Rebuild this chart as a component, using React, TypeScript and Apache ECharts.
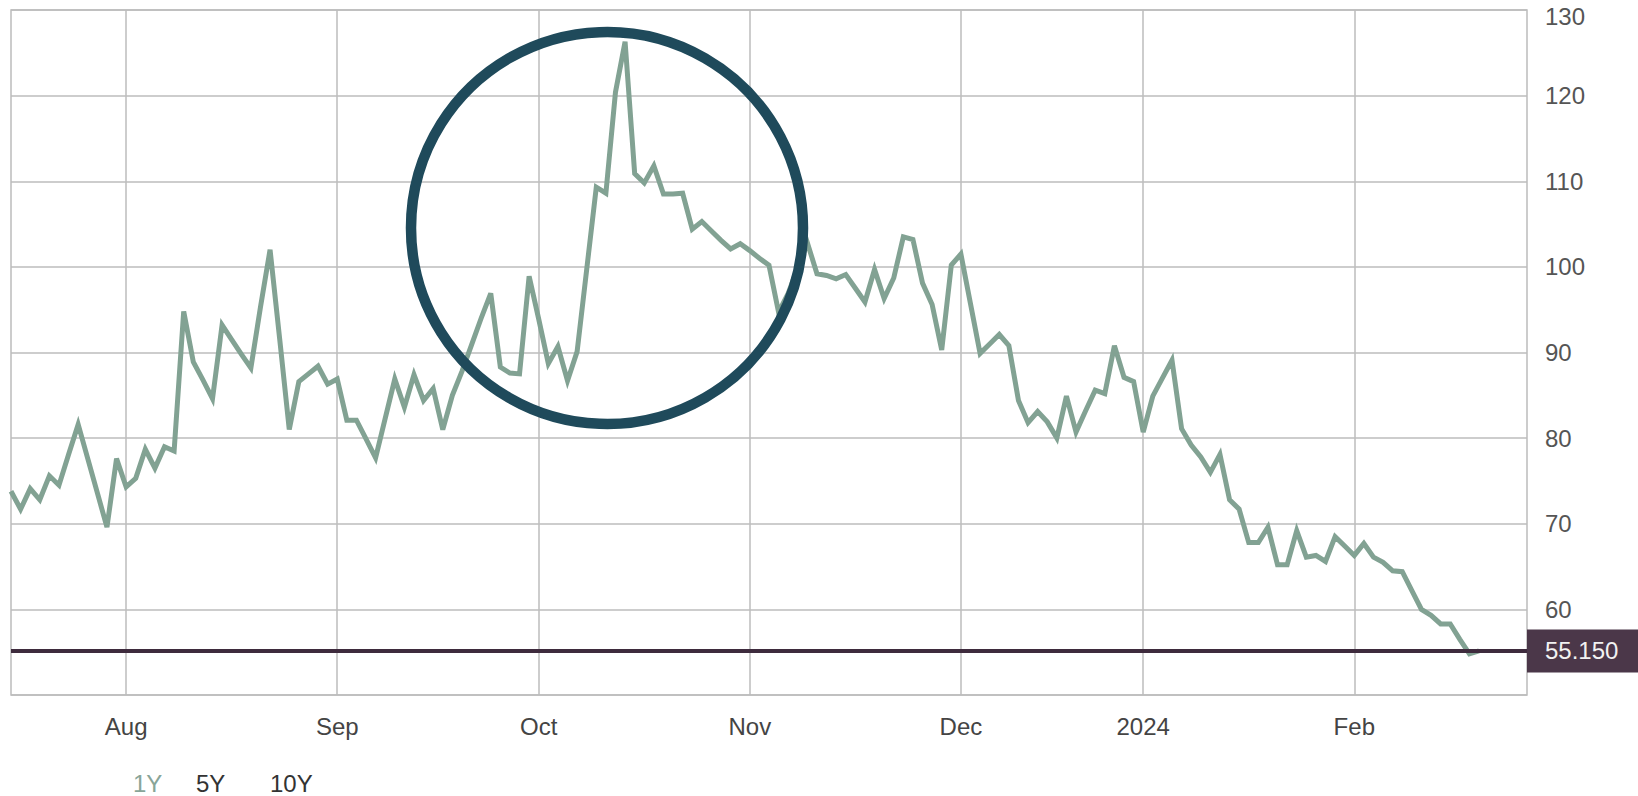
import React, { useEffect, useRef } from "react";
import * as echarts from "echarts";

// ---- data (UK trading days, 14 Jul 2023 – 20 Feb 2024) ----
const jul2023 = [73.8, 71.7, 74.1, 72.8, 75.6, 74.5, 78.1, 81.6, 77.6, 73.6, 69.6, 77.6];
const aug2023 = [74.3, 75.3, 78.7, 76.5, 79.0, 78.5, 94.8, 88.9, 86.8, 84.6, 93.2, 91.5, 89.8, 88.2, 95.3, 102.0, 91.6, 81.0, 86.6, 87.5, 88.4, 86.3];
const sep2023 = [86.9, 82.1, 82.1, 79.9, 77.7, 82.3, 86.9, 83.6, 87.4, 84.4, 85.8, 81.0, 85.0, 87.8, 90.9, 94.0, 96.9, 88.3, 87.6, 87.5, 98.9];
const oct2023 = [93.9, 88.7, 90.7, 86.7, 90.1, 99.7, 109.3, 108.6, 120.4, 126.3, 110.9, 109.8, 111.8, 108.5, 108.5, 108.6, 104.4, 105.3, 104.2, 103.1, 102.1, 102.7];
const nov2023 = [101.9, 101.0, 100.2, 94.7, 96.9, 99.9, 102.8, 99.2, 99.0, 98.6, 99.1, 97.5, 95.9, 99.7, 96.3, 98.7, 103.5, 103.2, 98.1, 95.6, 90.3, 100.2];
const dec2023 = [101.5, 95.7, 89.9, 91.0, 92.1, 90.8, 84.4, 81.8, 83.1, 81.9, 80.0, 84.9, 80.7, 83.2, 85.6, 85.2, 90.8, 87.1, 86.6];
const jan2024 = [80.7, 84.9, 87.0, 89.1, 81.1, 79.2, 77.8, 76.0, 78.1, 72.8, 71.7, 67.8, 67.8, 69.6, 65.2, 65.2, 69.2, 66.1, 66.3, 65.6, 68.5, 67.4];
const feb2024 = [66.3, 67.7, 66.1, 65.5, 64.5, 64.4, 62.2, 60.0, 59.3, 58.3, 58.3, 56.5, 54.8, 55.15];

const tickMonths = ["2023-08", "2023-09", "2023-10", "2023-11", "2023-12", "2024-01", "2024-02"];
const tickLabels = ["Aug", "Sep", "Oct", "Nov", "Dec", "2024", "Feb"];
const yTicks = [50, 60, 70, 80, 90, 100, 110, 120, 130];
const ukHolidays = ["2023-08-28", "2023-12-25", "2023-12-26", "2024-01-01"];
const rangeButtons = ["1Y", "5Y", "10Y"];
const axisStartDate = "2023-07-14";
const axisEndDate = "2024-02-27";
const lastLabel = "55.150";

function tradingDays(): string[] {
  const out: string[] = [];
  let t = Date.parse(axisStartDate + "T00:00:00Z");
  const end = Date.parse(axisEndDate + "T00:00:00Z");
  while (t <= end) {
    const d = new Date(t);
    const wd = d.getUTCDay();
    const s = d.toISOString().slice(0, 10);
    if (wd !== 0 && wd !== 6 && !ukHolidays.includes(s)) out.push(s);
    t += 86400000;
  }
  return out;
}

const FONT = "'Liberation Sans', Arial, Helvetica, sans-serif";

export default function App() {
  const ref = useRef<HTMLDivElement>(null);

  useEffect(() => {
    if (!ref.current) return;
    const chart = echarts.init(ref.current, undefined, { renderer: "svg" });

    const categories = tradingDays();
    const values = [
      ...jul2023, ...aug2023, ...sep2023, ...oct2023,
      ...nov2023, ...dec2023, ...jan2024, ...feb2024,
    ];
    const lastValue = feb2024[feb2024.length - 1];

    const monthStart = new Map<number, string>();
    categories.forEach((c, i) => {
      if (i === 0) return;
      const m = c.slice(0, 7);
      if (m !== categories[i - 1].slice(0, 7)) {
        const k = tickMonths.indexOf(m);
        if (k >= 0) monthStart.set(i, tickLabels[k]);
      }
    });

    const gridColor = "#bcbcbc";

    chart.setOption({
      animation: false,
      backgroundColor: "#ffffff",
      grid: {
        left: 11,
        right: 111,
        top: 10,
        bottom: 101,
        show: true,
        borderColor: gridColor,
        borderWidth: 1.5,
        backgroundColor: "transparent",
      },
      xAxis: {
        type: "category",
        data: categories,
        boundaryGap: false,
        axisLine: { show: false },
        axisTick: { show: false },
        axisLabel: {
          interval: (i: number) => monthStart.has(i),
          formatter: (_v: string, i: number) => monthStart.get(i) || "",
          fontSize: 24,
          color: "#444",
          fontFamily: FONT,
          margin: 19,
        },
        splitLine: {
          show: true,
          interval: (i: number) => monthStart.has(i),
          lineStyle: { color: gridColor, width: 1.5 },
        },
      },
      yAxis: {
        type: "value",
        position: "right",
        min: yTicks[0],
        max: yTicks[yTicks.length - 1],
        interval: 10,
        axisLine: { show: false },
        axisTick: { show: false },
        splitLine: { lineStyle: { color: gridColor, width: 1.5 } },
        axisLabel: {
          margin: 18,
          fontSize: 24,
          color: "#555",
          fontFamily: FONT,
          formatter: (v: number) =>
            v === yTicks[0] ? "" : v === yTicks[yTicks.length - 1] ? "{t|" + v + "}" : String(v),
          rich: {
            t: { fontSize: 24, color: "#555", fontFamily: FONT, padding: [13, 0, 0, 0] },
          },
        },
      },
      series: [
        {
          type: "line",
          data: [],
          z: 1,
          silent: true,
          markLine: {
            silent: true,
            symbol: ["none", "none"],
            lineStyle: { color: "#3e2b3d", width: 4, type: "solid" },
            emphasis: { disabled: true },
            label: {
              show: true,
              position: "end",
              distance: 0,
              formatter: lastLabel,
              color: "#f2f2f2",
              backgroundColor: "#4b3749",
              fontSize: 24,
              fontFamily: FONT,
              padding: [10, 40, 9, 18],
            },
            data: [{ yAxis: lastValue }],
          },
        },
        {
          type: "line",
          data: values,
          z: 3,
          silent: true,
          showSymbol: false,
          symbol: "none",
          lineStyle: { color: "#82a293", width: 5, join: "miter" },
        },
      ],
      graphic: [
        {
          type: "circle",
          z: 100,
          silent: true,
          shape: { cx: 607, cy: 228, r: 196 },
          style: { fill: "none", stroke: "#1f4a5b", lineWidth: 10.5 },
        },
        {
          type: "text",
          x: 133,
          y: 783,
          style: { text: rangeButtons[0], fontSize: 24, fontFamily: FONT, fill: "#88a598", verticalAlign: "middle", align: "left" },
        },
        {
          type: "text",
          x: 196,
          y: 783,
          style: { text: rangeButtons[1], fontSize: 24, fontFamily: FONT, fill: "#333", verticalAlign: "middle", align: "left" },
        },
        {
          type: "text",
          x: 270,
          y: 783,
          style: { text: rangeButtons[2], fontSize: 24, fontFamily: FONT, fill: "#333", verticalAlign: "middle", align: "left" },
        },
      ],
    });

    return () => chart.dispose();
  }, []);

  return (
    <div
      ref={ref}
      style={{ position: "fixed", left: 0, top: 0, width: 1638, height: 796, background: "#fff" }}
    />
  );
}
